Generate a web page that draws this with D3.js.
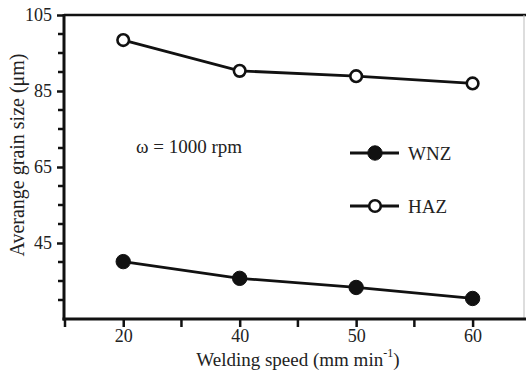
<!DOCTYPE html>
<html><head><meta charset="utf-8">
<script src="https://cdn.jsdelivr.net/npm/d3@7"></script>
<style>body{margin:0;background:#fff}svg{display:block}text{font-family:"Liberation Serif","Times New Roman",serif;fill:#222}</style>
</head><body><svg id="c" width="526" height="374"></svg>
<script>
const categories = ["20","40","50","60"];
const wnz = [40.1, 35.7, 33.3, 30.4];
const haz = [98.4, 90.3, 88.9, 87.0];
const yTickLabels = [105, 85, 65, 45];
const yMinorTicks = [30,35,40,50,55,60,70,75,80,90,95,100];

const svg = d3.select("#c");
const x = d3.scaleLinear().domain([-0.5, 3.45]).range([65, 525]);
const y = d3.scaleLinear().domain([25, 105]).range([319, 15]);

// frame: top and right
svg.append("line").attr("x1",64).attr("x2",526).attr("y1",y(105)).attr("y2",y(105)).attr("stroke","#111").attr("stroke-width",2.5);
svg.append("line").attr("x1",524).attr("x2",524).attr("y1",y(105)).attr("y2",y(25)).attr("stroke","#bbb").attr("stroke-width",1);

// y axis
const ya = svg.append("g").attr("transform","translate(64,0)");
ya.call(d3.axisLeft(y).tickValues(yTickLabels).tickSize(7).tickFormat(d3.format("d")));
ya.selectAll(".tick text").attr("font-size",18).attr("dx",-2);
ya.selectAll(".tick line").attr("stroke","#111").attr("stroke-width",2.5);
ya.select(".domain").remove();
ya.selectAll(".minor").data(yMinorTicks).enter().append("line")
  .attr("x1",-6).attr("x2",0).attr("y1",d=>y(d)).attr("y2",d=>y(d)).attr("stroke","#111").attr("stroke-width",2.5);
ya.append("line").attr("x1",0).attr("x2",0).attr("y1",y(105)-1).attr("y2",y(25)+1.5).attr("stroke","#111").attr("stroke-width",3);

// x axis
const xa = svg.append("g").attr("transform",`translate(0,${y(25)})`);
xa.call(d3.axisBottom(x).tickValues(d3.range(categories.length)).tickSize(8).tickFormat(i=>categories[i]).tickPadding(2));
xa.selectAll(".tick text").attr("font-size",18);
xa.selectAll(".tick line").attr("stroke","#111").attr("stroke-width",2.5);
xa.select(".domain").remove();
const minorX = [-0.5, 0.5, 1.5, 2.5];
xa.selectAll(".minor").data(minorX).enter().append("line")
  .attr("x1",d=>x(d)).attr("x2",d=>x(d)).attr("y1",0).attr("y2",8).attr("stroke","#111").attr("stroke-width",2.5);
xa.append("line").attr("x1",62.5).attr("x2",526).attr("y1",0).attr("y2",0).attr("stroke","#111").attr("stroke-width",3);

// axis titles
svg.append("text").attr("x",x(1.5)).attr("y",366).attr("text-anchor","middle").attr("font-size",19)
  .html('Welding speed (mm min<tspan dy="-9" font-size="12">-1</tspan><tspan dy="9">)</tspan>');
svg.append("text").attr("transform","translate(24,155) rotate(-90)").attr("text-anchor","middle").attr("font-size",20)
  .text("Averange grain size (μm)");

// lines
const line = d3.line().x((d,i)=>x(i)).y(d=>y(d));
[ [wnz,true], [haz,false] ].forEach(([vals,filled])=>{
  svg.append("path").attr("d",line(vals)).attr("fill","none").attr("stroke","#111").attr("stroke-width",2.8);
  svg.selectAll(null).data(vals).enter().append("circle")
    .attr("cx",(d,i)=>x(i)).attr("cy",d=>y(d)).attr("r",filled?7.2:5.8)
    .attr("fill",filled?"#111":"#fff").attr("stroke","#111").attr("stroke-width",filled?1:2.6);
});

// annotation
svg.append("text").attr("x",136).attr("y",153).attr("font-size",19).text("ω = 1000 rpm");

// legend
const leg = [["WNZ",true,153],["HAZ",false,206]];
leg.forEach(([name,filled,ly])=>{
  svg.append("line").attr("x1",350).attr("x2",399).attr("y1",ly).attr("y2",ly).attr("stroke","#111").attr("stroke-width",2.8);
  svg.append("circle").attr("cx",375).attr("cy",ly).attr("r",filled?7.2:5.8)
    .attr("fill",filled?"#111":"#fff").attr("stroke","#111").attr("stroke-width",filled?1:2.6);
  svg.append("text").attr("x",408).attr("y",ly+6.5).attr("font-size",19).text(name);
});
</script></body></html>
